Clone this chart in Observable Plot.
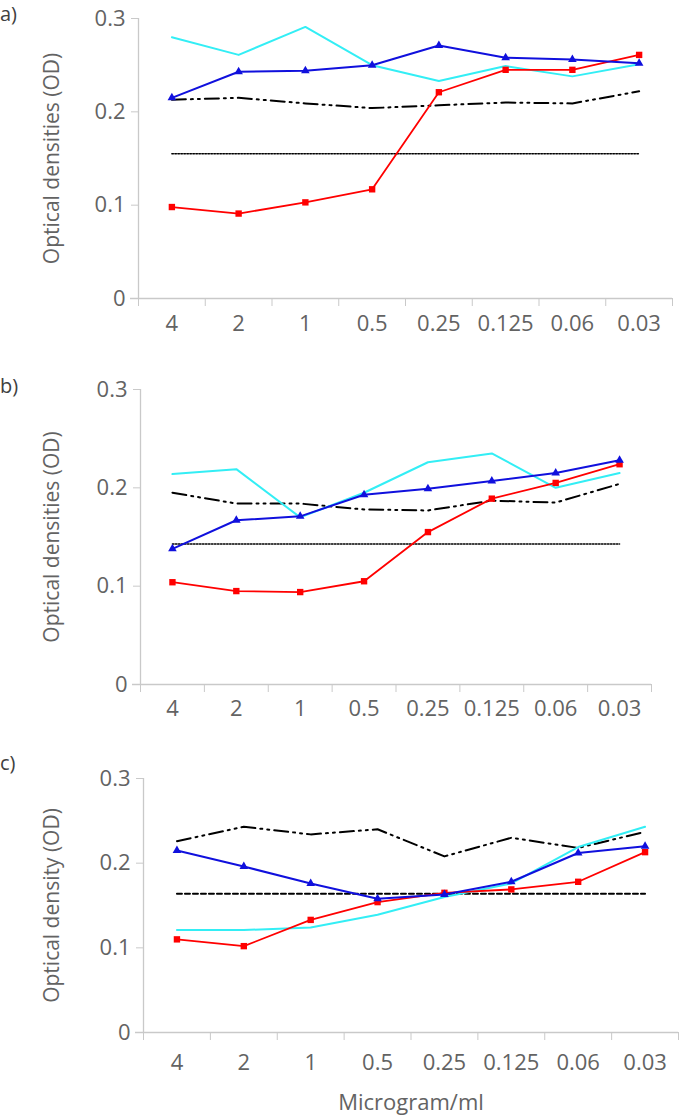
<!DOCTYPE html>
<html><head><meta charset="utf-8">
<script src="https://cdn.jsdelivr.net/npm/d3@7"></script>
<script src="https://cdn.jsdelivr.net/npm/@observablehq/plot@0.6"></script>
<style>
body{margin:0;background:#fff;font-family:"Open Sans",sans-serif;}
#wrap{position:relative;width:680px;height:1119px;overflow:hidden;}
.panel{position:absolute;left:0;}
.tag{position:absolute;left:0;font-size:20px;line-height:24px;color:#404040;}
</style></head><body><div id="wrap"></div>
<script>
// x categories (Microgram/ml)
const doses = ["4", "2", "1", "0.5", "0.25", "0.125", "0.06", "0.03"];
const yTicks = [0, 0.1, 0.2, 0.3];

// panel a
const aRed   = [0.098, 0.091, 0.103, 0.117, 0.221, 0.245, 0.245, 0.261];
const aBlue  = [0.215, 0.243, 0.244, 0.250, 0.271, 0.258, 0.256, 0.252];
const aCyan  = [0.280, 0.261, 0.291, 0.250, 0.233, 0.249, 0.238, 0.251];
const aBlack = [0.213, 0.215, 0.209, 0.204, 0.207, 0.210, 0.209, 0.222];
const aCutoff = 0.155;

// panel b
const bRed   = [0.104, 0.095, 0.094, 0.105, 0.155, 0.189, 0.205, 0.224];
const bBlue  = [0.138, 0.167, 0.171, 0.193, 0.199, 0.207, 0.215, 0.228];
const bCyan  = [0.214, 0.219, 0.170, 0.195, 0.226, 0.235, 0.200, 0.215];
const bBlack = [0.195, 0.184, 0.184, 0.178, 0.177, 0.187, 0.185, 0.204];
const bCutoff = 0.143;

// panel c
const cRed   = [0.110, 0.102, 0.133, 0.154, 0.165, 0.169, 0.178, 0.213];
const cBlue  = [0.215, 0.196, 0.176, 0.158, 0.163, 0.178, 0.212, 0.220];
const cCyan  = [0.121, 0.121, 0.124, 0.139, 0.160, 0.176, 0.219, 0.243];
const cBlack = [0.226, 0.243, 0.234, 0.240, 0.208, 0.230, 0.218, 0.237];
const cCutoff = 0.164;

const AX = "#c9c9c9", TXT = "#636363";

function makePanel(c) {
  const rows = arr => doses.map((d, i) => ({i, v: arr[i]}));
  const cut = doses.map((d, i) => ({i, v: c.cutoff}));
  const idx = doses.map((d, i) => i);
  const bounds = [-0.5, ...idx.map(i => i + 0.5)];
  const plot = Plot.plot({
    width: 680, height: c.height,
    marginTop: c.mt, marginBottom: c.mb, marginLeft: c.ml, marginRight: c.mr,
    x: {domain: [-0.5, 7.5]},
    y: {domain: [0, 0.3]},
    style: {fontFamily: "Open Sans", fontSize: "22px", color: TXT, background: "transparent"},
    marks: [
      Plot.ruleY([0], {stroke: AX, strokeWidth: 1.3, insetLeft: -8}),
      Plot.ruleX([-0.5], {stroke: AX, strokeWidth: 1.3}),
      Plot.axisY({ticks: yTicks, tickSize: 7, tickPadding: 6, stroke: AX, fill: TXT, fontSize: 22,
        tickFormat: d => d === 0 ? "0" : d.toFixed(1), label: null}),
      Plot.axisY({ticks: [], tickSize: 0, fill: TXT, fontSize: 21,
        label: c.ylabel, labelAnchor: "center", labelOffset: c.lo, labelArrow: "none"}),
      Plot.axisX({ticks: bounds, tickSize: 8, stroke: AX, tickFormat: () => "", label: null}),
      Plot.axisX({ticks: idx, tickSize: 0, tickPadding: c.tp, fill: TXT, fontSize: 22,
        tickFormat: i => doses[i], label: null}),
      ...(c.xlabel ? [Plot.axisX({ticks: [], tickSize: 0, fill: TXT, fontSize: 22,
        label: c.xlabel, labelAnchor: "center", labelOffset: c.xlo, labelArrow: "none"})] : []),
      Plot.line(cut, {x: "i", y: "v", stroke: "#000", strokeWidth: c.cutW, strokeDasharray: c.cutDash}),
      Plot.line(rows(c.black), {x: "i", y: "v", stroke: "#000", strokeWidth: 2, strokeDasharray: "14,5,2,5,2,5"}),
      Plot.line(rows(c.cyan), {x: "i", y: "v", stroke: "#33eef5", strokeWidth: 2}),
      Plot.line(rows(c.red), {x: "i", y: "v", stroke: "#ff0000", strokeWidth: 1.8}),
      Plot.dot(rows(c.red), {x: "i", y: "v", symbol: "square", r: 3.6, fill: "#ff0000", stroke: "none"}),
      Plot.line(rows(c.blue), {x: "i", y: "v", stroke: "#1010dd", strokeWidth: 2}),
      Plot.dot(rows(c.blue), {x: "i", y: "v", symbol: "triangle", r: 3.2, fill: "#1010dd", stroke: "none"})
    ]
  });
  const div = document.createElement("div");
  div.className = "panel";
  div.style.top = c.top + "px";
  div.appendChild(plot);
  const tag = document.createElement("div");
  tag.className = "tag";
  tag.style.top = c.tagTop + "px";
  tag.textContent = c.tag;
  const wrap = document.getElementById("wrap");
  wrap.appendChild(div);
  wrap.appendChild(tag);
}

makePanel({tag: "a)", tagTop: 2, top: 0, height: 350, mt: 18, mb: 52, ml: 138, mr: 8,
  red: aRed, blue: aBlue, cyan: aCyan, black: aBlack, cutoff: aCutoff, cutW: 1.5, cutDash: "1.5,1.5",
  ylabel: "Optical densities (OD)", lo: 94, tp: 17});
makePanel({tag: "b)", tagTop: 374, top: 360, height: 375, mt: 29, mb: 51, ml: 140, mr: 29,
  red: bRed, blue: bBlue, cyan: bCyan, black: bBlack, cutoff: bCutoff, cutW: 1.5, cutDash: "1.5,1.5",
  ylabel: "Optical densities (OD)", lo: 96, tp: 16});
makePanel({tag: "c)", tagTop: 751, top: 750, height: 369, mt: 28, mb: 87, ml: 143, mr: 2,
  red: cRed, blue: cBlue, cyan: cCyan, black: cBlack, cutoff: cCutoff, cutW: 2, cutDash: "5,3",
  ylabel: "Optical density (OD)", lo: 99, tp: 22, xlabel: "Microgram/ml", xlo: 77});
</script>
</body></html>
